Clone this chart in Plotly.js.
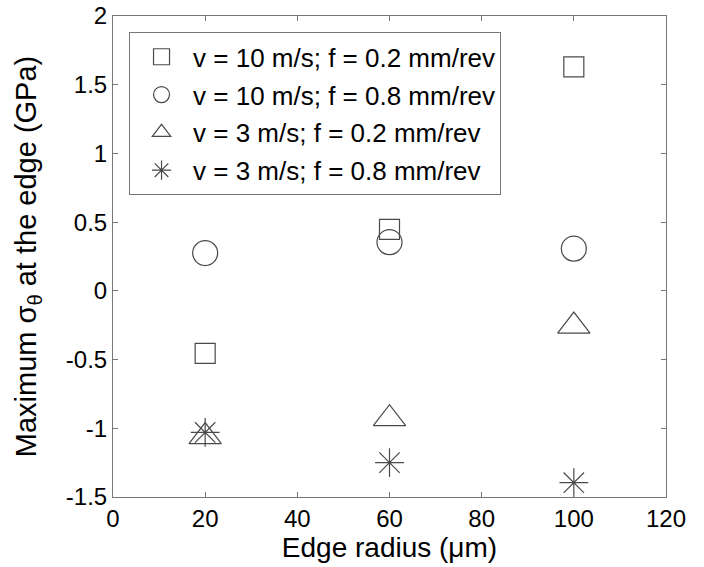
<!DOCTYPE html>
<html>
<head>
<meta charset="utf-8">
<script src="https://cdn.plot.ly/plotly-3.0.1.min.js"></script>
<style>html,body{margin:0;padding:0;background:#fff;}#chart{width:704px;height:567px;}</style>
</head>
<body>
<div id="chart"></div>
<script>
const edgeRadius = [20, 60, 100];
const seriesNames = [
  "v = 10 m/s; f = 0.2 mm/rev",
  "v = 10 m/s; f = 0.8 mm/rev",
  "v = 3 m/s; f = 0.2 mm/rev",
  "v = 3 m/s; f = 0.8 mm/rev"
];
const v10f02 = [-0.455, 0.447, 1.63];
const v10f08 = [0.275, 0.354, 0.307];
const v3f02 = [-1.06, -0.93, -0.256];
const v3f08 = [-1.03, -1.25, -1.396];
const xTicks = [0, 20, 40, 60, 80, 100, 120];
const yTicks = [-1.5, -1, -0.5, 0, 0.5, 1, 1.5, 2];
const yTickText = ["-1.5", "-1", "-0.5", "0", "0.5", "1", "1.5", "2"];

const gray = "#4a4a4a";
const styles = [
  {symbol: "square-open", size: 20},
  {symbol: "circle-open", size: 25},
  {symbol: "triangle-up-open", size: 28},
  {symbol: "asterisk-open", size: 24}
];
const ys = [v10f02, v10f08, v3f02, v3f08];
const traces = ys.map((y, i) => ({
  x: edgeRadius, y: y, type: "scatter", mode: "markers", name: seriesNames[i],
  legendgroup: "g" + i,
  marker: {symbol: styles[i].symbol, size: styles[i].size, color: gray, line: {color: gray, width: 1.2}}
}));

const fam = "Liberation Sans, Arial, sans-serif";
const f = (s) => ({family: fam, size: s, color: "#000"});
const layout = {
  width: 704, height: 567,
  margin: {l: 113, r: 38, t: 16, b: 70},
  paper_bgcolor: "#fff", plot_bgcolor: "#fff",
  showlegend: true,
  legend: {
    x: 0.029, y: 0.966, xanchor: "left", yanchor: "top",
    bgcolor: "#fff", bordercolor: "#777", borderwidth: 1,
    font: f(26),
    traceorder: "grouped", tracegroupgap: 1,
    itemsizing: "trace", itemwidth: 53
  },
  xaxis: {
    range: [0, 120], tickvals: xTicks, ticktext: xTicks.map(String),
    ticks: "inside", ticklen: 5, tickcolor: "#777", mirror: "ticks",
    showline: true, linecolor: "#777", linewidth: 1, showgrid: false, zeroline: false,
    tickfont: f(24),
    title: {text: "Edge radius (\u03bcm)", font: f(28), standoff: 2}
  },
  yaxis: {
    range: [-1.5, 2], tickvals: yTicks, ticktext: yTickText,
    ticks: "inside", ticklen: 5, tickcolor: "#777", mirror: "ticks",
    showline: true, linecolor: "#777", linewidth: 1, showgrid: false, zeroline: false,
    tickfont: f(24),
    title: {text: "Maximum \u03c3<sub>\u03b8</sub> at the edge (GPa)", font: f(29), standoff: 20}
  }
};
Plotly.newPlot("chart", traces, layout, {displayModeBar: false, staticPlot: true});
</script>
</body>
</html>
